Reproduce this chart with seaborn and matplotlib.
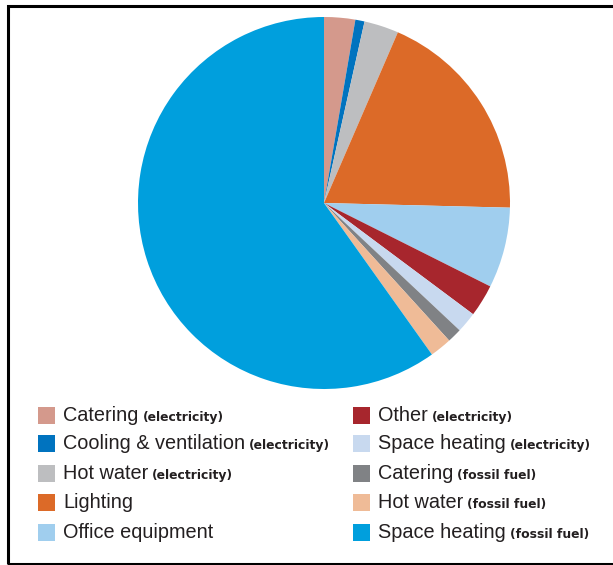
import matplotlib
matplotlib.use("Agg")
import matplotlib.pyplot as plt
from matplotlib.patches import Rectangle
import seaborn as sns

# End-use shares of energy consumption (%)
categories = [
    "Catering", "Cooling & ventilation", "Hot water", "Lighting",
    "Office equipment", "Other", "Space heating", "Catering",
    "Hot water", "Space heating",
]
qualifiers = [
    "(electricity)", "(electricity)", "(electricity)", "", "",
    "(electricity)", "(electricity)", "(fossil fuel)", "(fossil fuel)",
    "(fossil fuel)",
]
shares = [2.7, 0.8, 3.0, 18.9, 7.0, 2.8, 1.8, 1.25, 1.9, 59.85]
colors = [
    "#D4998C", "#0073BF", "#BDBEC0", "#DC6A28", "#A0CEEE",
    "#A7262D", "#C8D9EF", "#808285", "#EFBB97", "#009FDD",
]

sns.set_theme(style="white")
plt.rcParams["font.family"] = ["Liberation Sans", "DejaVu Sans"]
palette = sns.color_palette(colors)

W, H = 613, 565
fig = plt.figure(figsize=(W / 100, H / 100), dpi=100)
fig.patch.set_facecolor("white")

# frame around the figure
fig.patches.append(Rectangle((8 / W, 1.5 / H), 1.2, (564 - 6.5) / H,
                             transform=fig.transFigure, fill=False,
                             edgecolor="black", linewidth=2.2))

# pie axes: centre (324, 203) px, radius 186 px
cx, cy, r, half = 324, 203, 186, 195
ax = fig.add_axes([(cx - half) / W, 1 - (cy + half) / H, 2 * half / W, 2 * half / H])
ax.pie(shares, colors=palette, startangle=90, counterclock=False,
       radius=1, wedgeprops=dict(linewidth=0))
lim = half / r
ax.set_xlim(-lim, lim)
ax.set_ylim(-lim, lim)
ax.set_aspect("equal")
ax.axis("off")

# legend in two columns of five
text_color = "#231F20"
col_x = [38, 353]
row_y = [415, 443, 473, 502, 532]
sq = 17
renderer = fig.canvas.get_renderer()
for i, (name, qual, col) in enumerate(zip(categories, qualifiers, palette)):
    c, rr = divmod(i, 5)
    x0 = col_x[c]
    yc = row_y[rr]
    fig.patches.append(Rectangle((x0 / W, 1 - (yc + sq / 2) / H), sq / W, sq / H,
                                 transform=fig.transFigure, facecolor=col,
                                 edgecolor="none"))
    base = 1 - (yc + 6) / H
    t = fig.text((x0 + 25) / W, base, name, fontsize=14.3, color=text_color,
                 va="baseline", ha="left")
    if qual:
        bb = t.get_window_extent(renderer)
        fig.text((bb.x1 + 4) / W, base, qual, fontsize=8.9, fontweight="bold",
                 family="DejaVu Sans", color=text_color,
                 va="baseline", ha="left")

fig.savefig("out.png", dpi=100, facecolor="white")
